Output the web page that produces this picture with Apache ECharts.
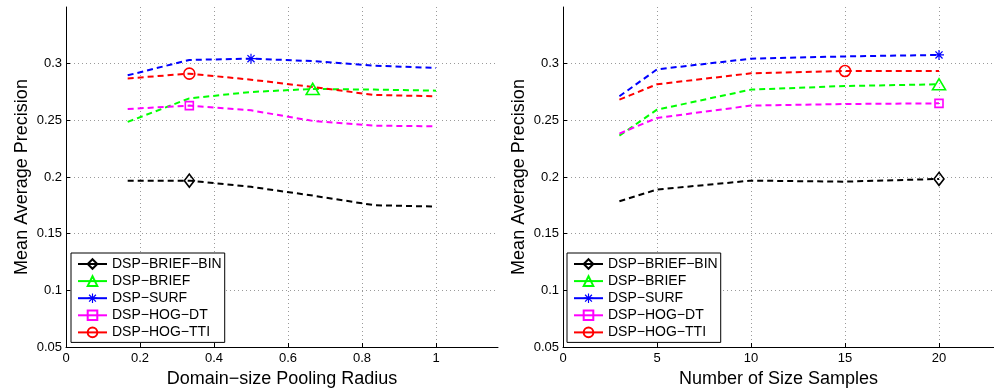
<!DOCTYPE html>
<html>
<head>
<meta charset="utf-8">
<script src="https://cdn.jsdelivr.net/npm/echarts@6/dist/echarts.min.js"></script>
<style>
html,body{margin:0;padding:0;background:#fff;}
#c{width:994px;height:392px;}
</style>
</head>
<body>
<div id="c"></div>
<script>
// ---- data ----
const seriesNames = ['DSP−BRIEF−BIN', 'DSP−BRIEF', 'DSP−SURF', 'DSP−HOG−DT', 'DSP−HOG−TTI'];
const xRadius = [0.1667, 0.3333, 0.5, 0.6667, 0.8333, 1];
const xSamples = [3, 5, 10, 15, 20];

const briefBinLeft = [0.1968, 0.1968, 0.1913, 0.1836, 0.1751, 0.1739];
const briefLeft    = [0.2486, 0.2694, 0.2750, 0.2777, 0.2771, 0.2762];
const surfLeft     = [0.2897, 0.3033, 0.3044, 0.3023, 0.2982, 0.2962];
const hogDtLeft    = [0.2600, 0.2630, 0.2588, 0.2495, 0.2453, 0.2447];
const hogTtiLeft   = [0.2870, 0.2912, 0.2859, 0.2794, 0.2724, 0.2712];

const briefBinRight = [0.1786, 0.1889, 0.1968, 0.1959, 0.1983];
const briefRight    = [0.2365, 0.2594, 0.2771, 0.2803, 0.2818];
const surfRight     = [0.2712, 0.2950, 0.3044, 0.3064, 0.3077];
const hogDtRight    = [0.2383, 0.2521, 0.2630, 0.2644, 0.2650];
const hogTtiRight   = [0.2683, 0.2818, 0.2915, 0.2935, 0.2935];

// index of the single marker drawn on each line
const markerIdxLeft  = [1, 3, 2, 1, 1];
const markerIdxRight = [4, 4, 4, 4, 3];

const yTicks = [0.05, 0.1, 0.15, 0.2, 0.25, 0.3];
const xTicksLeft = [0, 0.2, 0.4, 0.6, 0.8, 1];
const xTicksRight = [0, 5, 10, 15, 20];

// ---- styles ----
const colors = ['#000000', '#00ff00', '#0000ff', '#ff00ff', '#ff0000'];
const star = 'path://M0 44H100V56H0Z M44 0H56V100H44Z M19 10L90 81L81 90L10 19Z M81 10L90 19L19 90L10 81Z';
const symbols = ['diamond', 'triangle', star, 'rect', 'circle'];
const symbolSizes = [[10, 13], [13, 11], 10, 8, 11];
const FONT = 'Liberation Sans, Arial, Helvetica, sans-serif';

function buildSeries(xs, ys, idx, gridIndex) {
  return ys.map((vals, k) => ({
    name: seriesNames[k],
    type: 'line',
    xAxisIndex: gridIndex,
    yAxisIndex: gridIndex,
    symbol: symbols[k],
    symbolSize: symbolSizes[k],
    showAllSymbol: true,
    animation: false,
    lineStyle: { color: colors[k], width: 2, type: [6, 4] },
    itemStyle: k === 2
      ? { color: colors[k], borderWidth: 0 }
      : { color: 'rgba(0,0,0,0)', borderColor: colors[k], borderWidth: 1.6 },
    emphasis: { disabled: true },
    data: vals.map((v, i) => i === idx[k]
      ? { value: [xs[i], v] }
      : { value: [xs[i], v], symbol: 'none' })
  }));
}

function xAxis(gridIndex, max, interval, ticks, name) {
  return {
    type: 'value', gridIndex, min: 0, max, interval,
    name, nameLocation: 'middle', nameGap: 21,
    nameTextStyle: { fontFamily: FONT, fontSize: 18, color: '#000' },
    axisLine: { show: true, onZero: false, lineStyle: { color: '#000', width: 1 } },
    axisTick: { show: true, inside: true, length: 4, customValues: ticks, lineStyle: { color: '#000' } },
    axisLabel: { customValues: ticks, fontFamily: FONT, fontSize: 13, color: '#000', margin: 5 },
    splitLine: { show: true, lineStyle: { color: '#9a9a9a', width: 1, type: [1, 3] } }
  };
}
function yAxis(gridIndex) {
  return {
    type: 'value', gridIndex, min: 0.05, max: 0.35, interval: 0.05,
    name: 'Mean Average Precision', nameLocation: 'middle', nameGap: 35,
    nameTextStyle: { fontFamily: FONT, fontSize: 18, color: '#000' },
    axisLine: { show: true, onZero: false, lineStyle: { color: '#000', width: 1 } },
    axisTick: { show: true, inside: true, length: 4, customValues: yTicks, lineStyle: { color: '#000' } },
    axisLabel: { customValues: yTicks, fontFamily: FONT, fontSize: 13, color: '#000', margin: 4,
                 formatter: v => String(+v.toFixed(2)) },
    splitLine: { show: true, lineStyle: { color: '#9a9a9a', width: 1, type: [1, 3] } }
  };
}
function legend(left) {
  return {
    left, top: 253, orient: 'vertical',
    backgroundColor: '#fff', borderColor: '#000', borderWidth: 1,
    padding: [4, 3, 3, 6], itemWidth: 29, itemHeight: 12, itemGap: 3.1,
    textStyle: { fontFamily: FONT, fontSize: 14, color: '#000' },
    lineStyle: { type: 'solid', width: 2 },
    selectedMode: false,
    data: seriesNames
  };
}

const chart = echarts.init(document.getElementById('c'), null, { renderer: 'canvas' });
chart.setOption({
  backgroundColor: '#fff',
  animation: false,
  grid: [
    { left: 66, top: 7, width: 432, height: 340, containLabel: false, outerBoundsMode: 'none' },
    { left: 563, top: 7, width: 431, height: 340, containLabel: false, outerBoundsMode: 'none' }
  ],
  xAxis: [
    xAxis(0, 432 / 370, 0.2, xTicksLeft, 'Domain−size Pooling Radius'),
    xAxis(1, 431 / 18.8, 5, xTicksRight, 'Number of Size Samples')
  ],
  yAxis: [yAxis(0), yAxis(1)],
  legend: [legend(71), legend(567)],
  series: [
    ...buildSeries(xRadius, [briefBinLeft, briefLeft, surfLeft, hogDtLeft, hogTtiLeft], markerIdxLeft, 0),
    ...buildSeries(xSamples, [briefBinRight, briefRight, surfRight, hogDtRight, hogTtiRight], markerIdxRight, 1)
  ]
});
</script>
</body>
</html>
